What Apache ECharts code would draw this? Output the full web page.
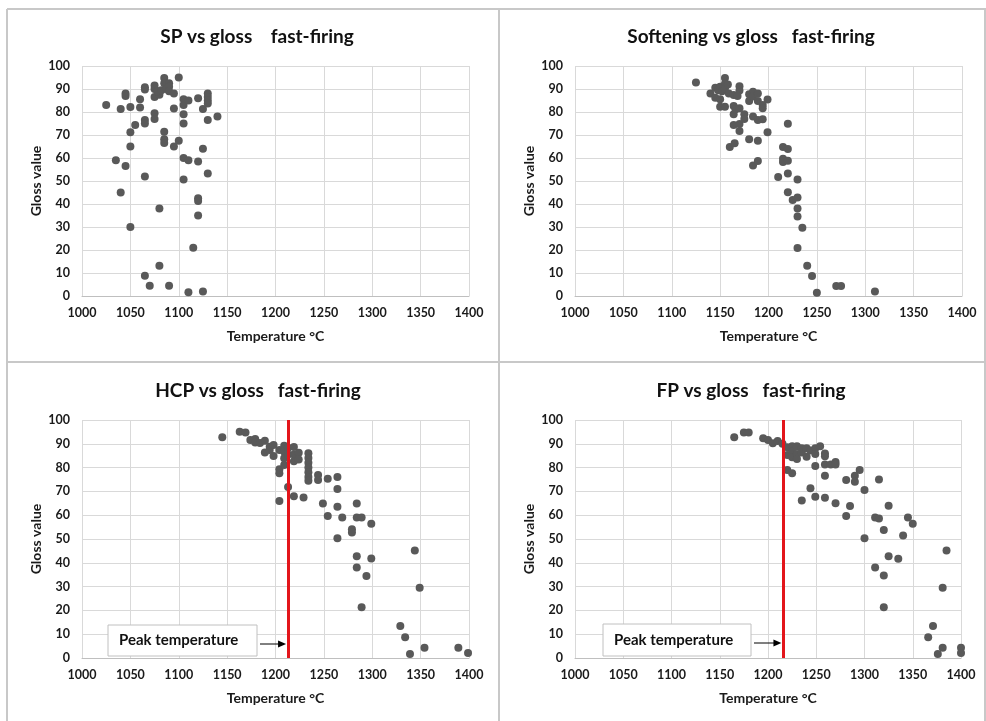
<!DOCTYPE html>
<html><head><meta charset="utf-8">
<script src="https://cdn.jsdelivr.net/npm/echarts@6/dist/echarts.min.js"></script>
<style>html,body{margin:0;padding:0;background:#fff}#c{width:986px;height:721px}</style>
</head><body><div id="c"></div>
<script>
// ---------- data ----------
const xTickLabels = [1000, 1050, 1100, 1150, 1200, 1250, 1300, 1350, 1400];
const yTickLabels = [0, 10, 20, 30, 40, 50, 60, 70, 80, 90, 100];
const titles = ['SP vs gloss    fast-firing', 'Softening vs gloss   fast-firing', 'HCP vs gloss   fast-firing', 'FP vs gloss   fast-firing'];
const xAxisName = 'Temperature °C';
const yAxisName = 'Gloss value';
const peakLabel = 'Peak temperature';
const peakTemps = [null, null, 1213, 1216];

const spTemp  = [1025,1040,1035,1045,1045,1045,1040,1050,1050,1050,1050,1055,1060,1060,1065,1065,1065,1065,1065,1065,1070,1075,1075,1075,1075,1075,1080,1080,1080,1078,1082,1085,1085,1085,1085,1085,1087,1090,1090,1090,1090,1095,1095,1095,1100,1100,1105,1105,1105,1105,1105,1105,1110,1110,1110,1115,1120,1120,1120,1120,1120,1125,1125,1125,1130,1130,1130,1130,1130,1130,1140];
const spGloss = [83,81.3,59,88,87,56.5,45,82.2,71.2,65,30,74.3,85.5,82,90.8,89.8,76.5,75,52,8.8,4.5,91.5,90,86.5,79.5,77,38,13.2,87.5,89,89.5,94.8,92.5,71.4,68.2,66.5,90,92.5,91,89,4.5,88,81.5,65,95,67.5,85.5,83,79,75,60,50.7,85,59,1.6,21,86,58.5,42.5,41.3,35,81.3,64,2,88,86.5,85,83.7,76.5,53.3,78];

const softTemp  = [1125,1140,1145,1145,1148,1150,1150,1150,1152,1155,1155,1155,1155,1158,1159,1160,1165,1164,1164,1164,1164,1166,1170,1170,1170,1170,1170,1168,1175,1175,1180,1180,1180,1184,1184,1184,1184,1189,1189,1189,1189,1189,1194,1194,1194,1199,1199,1210,1215,1215,1215,1220,1220,1220,1220,1220,1225,1230,1230,1230,1230,1230,1235,1240,1245,1250,1270,1275,1310];
const softGloss = [92.8,88,90.5,86.2,89.5,91,85.5,82.3,89,94.8,92.3,90.3,82.3,92,88,64.8,66.4,87.4,82.6,79,74.3,81.2,91.2,89.3,81.6,74.8,71.7,87,79,77,87.7,84.8,68.1,88.8,86.7,78,56.7,88,84.8,76.5,67.5,58.7,83,81.6,76.8,85.4,71.2,51.7,64.8,59.7,58.3,74.9,63.9,58.8,53.3,45.1,41.7,50.6,42.8,38,34.6,20.9,29.7,13.2,8.7,1.4,4.3,4.3,2];

const hcpTemp  = [1145,1163,1169,1174,1179,1179,1184,1189,1189,1194,1194,1198,1198,1204,1204,1204,1204,1209,1209,1209,1209,1213,1213,1213,1219,1219,1219,1219,1224,1224,1229,1234,1234,1234,1234,1234,1234,1234,1244,1244,1249,1254,1254,1264,1264,1264,1264,1269,1279,1279,1284,1284,1284,1284,1289,1289,1294,1299,1299,1329,1334,1339,1344,1349,1354,1389,1399];
const hcpGloss = [92.7,95.1,94.7,91.6,92,90.5,90.3,91.3,86.3,88.8,87.4,89.5,84.9,87.4,79.3,77.6,66,89.2,86.7,83.9,81.1,88.3,85.5,71.8,88.7,85.5,82.7,68,86.2,83.4,67.4,86,84,82,80,78,76,74.5,76.9,74.8,64.9,75.3,59.7,76,71,63.6,50.3,59,54.1,52.7,64.9,59,42.7,38,59,21.3,34.5,56.4,41.8,13.4,8.7,1.7,45.2,29.5,4.3,4.3,2.1];

const fpTemp  = [1165,1175,1180,1195,1200,1205,1210,1215,1220,1220,1220,1225,1225,1225,1225,1230,1230,1230,1235,1235,1235,1240,1240,1244,1244,1249,1249,1249,1249,1254,1259,1259,1259,1259,1259,1265,1270,1270,1270,1281,1281,1285,1290,1290,1295,1300,1300,1311,1311,1315,1315,1320,1320,1320,1325,1325,1335,1340,1345,1350,1366,1371,1376,1381,1381,1385,1400,1400];
const fpGloss = [92.7,94.7,94.7,92.3,91.6,90.2,91.2,90,88.5,85.3,79,89,86.7,84.3,77.6,89,85.7,83.6,88.1,86.3,66.2,88.1,84.6,87.2,71.3,88.1,85.7,80.7,67.8,89,85.9,84.8,81.3,76.6,67.3,81.3,82.4,81.3,65,74.8,59.7,63.9,76.6,74.1,79,70.6,50.3,59,38,58.6,75,53.8,34.7,21.3,64,42.7,41.7,51.5,59,56.4,8.7,13.4,1.7,4.3,29.5,45.2,4.3,2.1];

const temps = [spTemp, softTemp, hcpTemp, fpTemp];
const gloss = [spGloss, softGloss, hcpGloss, fpGloss];

// ---------- layout ----------
const FONT = 'Lato, "Open Sans", sans-serif';
const grids = [
  {left: 82, top: 66, width: 387, height: 230},
  {left: 575, top: 66, width: 387, height: 230},
  {left: 82, top: 420, width: 387, height: 238},
  {left: 575, top: 420, width: 386, height: 238}
];
const titlePos = [[252, 22], [746, 22], [253, 376], [746, 376]];
const boxes = [null, null, {x: 108, y: 625, w: 149, h: 31}, {x: 603, y: 624, w: 148, h: 32}];
const arrowY = [null, null, 644, 643];

const chart = echarts.init(document.getElementById('c'), null, {renderer: 'canvas'});

const option = {
  backgroundColor: '#fff',
  animation: false,
  title: titles.map((t, i) => ({
    text: t, left: titlePos[i][0], top: titlePos[i][1], textAlign: 'center',
    textStyle: {fontFamily: FONT, fontWeight: 'bold', fontSize: 19, color: '#111'}
  })),
  grid: grids.map(g => Object.assign({containLabel: false}, g)),
  xAxis: grids.map((g, i) => ({
    type: 'value', gridIndex: i,
    min: xTickLabels[0], max: xTickLabels[xTickLabels.length - 1], interval: xTickLabels[1] - xTickLabels[0],
    name: xAxisName, nameLocation: 'middle', nameGap: 33,
    nameTextStyle: {fontFamily: FONT, fontWeight: 'bold', fontSize: 14, color: '#1a1a1a'},
    axisLine: {show: true, lineStyle: {color: '#bfbfbf', width: 1}},
    axisTick: {show: false},
    axisLabel: {fontFamily: FONT, fontWeight: 'bold', fontSize: 12.5, color: '#1a1a1a', margin: 10, formatter: v => String(v)},
    splitLine: {show: true, lineStyle: {color: '#d9d9d9', width: 1}}
  })),
  yAxis: grids.map((g, i) => ({
    type: 'value', gridIndex: i,
    min: yTickLabels[0], max: yTickLabels[yTickLabels.length - 1], interval: yTickLabels[1] - yTickLabels[0],
    name: yAxisName, nameLocation: 'middle', nameGap: 39, nameRotate: 90,
    nameTextStyle: {fontFamily: FONT, fontWeight: 'bold', fontSize: 14, color: '#1a1a1a'},
    axisLine: {show: false},
    axisTick: {show: false},
    axisLabel: {fontFamily: FONT, fontWeight: 'bold', fontSize: 12.5, color: '#1a1a1a', margin: 12, formatter: v => String(v)},
    splitLine: {show: true, lineStyle: {color: '#d9d9d9', width: 1}}
  })),
  series: temps.map((tArr, i) => {
    const s = {
      type: 'scatter', xAxisIndex: i, yAxisIndex: i,
      symbol: 'circle', symbolSize: 8,
      itemStyle: {color: '#595959', opacity: 1},
      data: tArr.map((t, k) => [t, gloss[i][k]])
    };
    if (peakTemps[i] != null) {
      s.markLine = {
        silent: true, symbol: ['none', 'none'], label: {show: false},
        lineStyle: {color: '#e3151b', width: 3, type: 'solid'},
        data: [{xAxis: peakTemps[i]}]
      };
    }
    return s;
  })
};
chart.setOption(option);

// ---------- decorations: panel borders and annotations ----------
const lineStyle = {stroke: '#c8c8c8', lineWidth: 2};
const graphics = [
  {type: 'line', shape: {x1: 7, y1: 9, x2: 986, y2: 9}, style: lineStyle},
  {type: 'line', shape: {x1: 7, y1: 9, x2: 7, y2: 721}, style: lineStyle},
  {type: 'line', shape: {x1: 499, y1: 9, x2: 499, y2: 721}, style: lineStyle},
  {type: 'line', shape: {x1: 7, y1: 362, x2: 986, y2: 362}, style: lineStyle},
  {type: 'line', shape: {x1: 985, y1: 9, x2: 985, y2: 721}, style: lineStyle}
];
boxes.forEach((b, i) => {
  if (!b) return;
  graphics.push({type: 'rect', shape: {x: b.x, y: b.y, width: b.w, height: b.h},
    style: {fill: '#fff', stroke: '#c0c0c0', lineWidth: 1}, z: 10});
  graphics.push({type: 'text', x: b.x + 11, y: b.y + b.h / 2,
    style: {text: peakLabel, font: 'bold 15px ' + FONT, fill: '#111', textVerticalAlign: 'middle'}, z: 11});
  const px = chart.convertToPixel({gridIndex: i}, [peakTemps[i], 0])[0];
  const ay = arrowY[i];
  const x0 = b.x + b.w + 3, x1 = px - 2;
  graphics.push({type: 'line', shape: {x1: x0, y1: ay, x2: x1 - 6, y2: ay}, style: {stroke: '#000', lineWidth: 1}, z: 11});
  graphics.push({type: 'polygon', shape: {points: [[x1, ay], [x1 - 8, ay - 3.5], [x1 - 8, ay + 3.5]]}, style: {fill: '#000'}, z: 11});
});
chart.setOption({graphic: graphics});
</script>
</body></html>
